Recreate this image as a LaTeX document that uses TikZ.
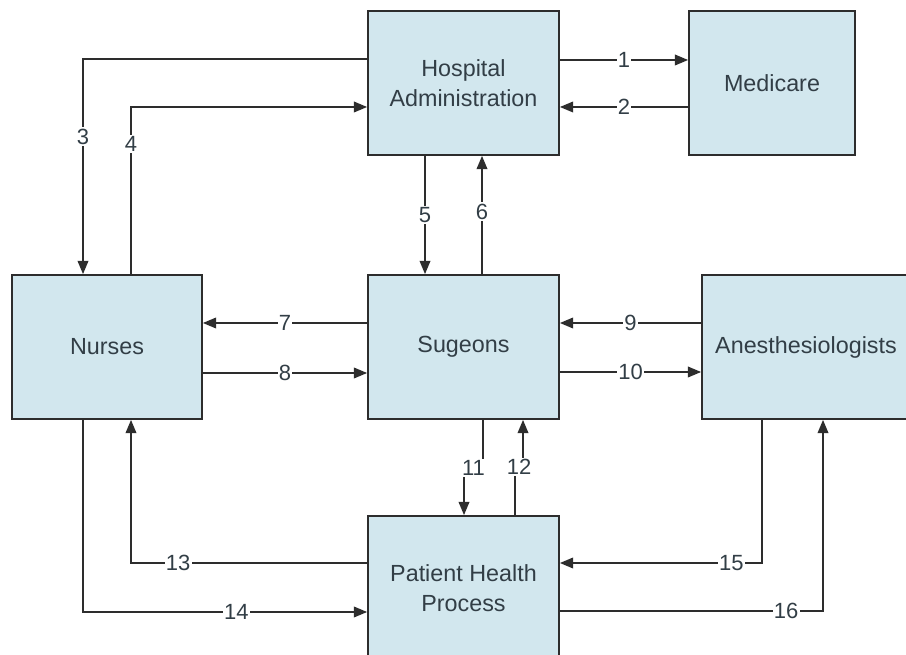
\documentclass[tikz,border=0pt]{standalone}
\usepackage{fontspec}
\setmainfont{Liberation Sans}
\usetikzlibrary{arrows.meta}

\definecolor{boxfill}{RGB}{210,231,238}
\definecolor{boxline}{RGB}{45,45,45}
\definecolor{boxtext}{RGB}{50,62,70}

\begin{document}
\begin{tikzpicture}
  [x=0.75pt,y=-0.75pt,
   box/.style={draw=boxline,line width=1.3pt,fill=boxfill,text=boxtext,align=center,
     minimum width=143.25pt,minimum height=108pt,
     font=\fontsize{17.5}{22.5}\selectfont},
   flow/.style={draw=boxline,line width=1.3pt,-{Triangle[length=10pt,width=8pt]}},
   num/.style={fill=white,inner sep=1pt,text=boxtext,font=\fontsize{16.5}{16.5}\selectfont}]
  \useasboundingbox (0,0) rectangle (906,655);
  \clip (0,0) rectangle (906,655);

  \node (hosp)[box] at (463.5,83) {Hospital\\Administration};
  \node (medi)[box,minimum width=124.5pt] at (772,83) {Medicare};
  \node (nurse)[box,minimum width=142.5pt] at (107,347) {Nurses};
  \node (sug)[box] at (463.5,347) {Sugeons};
  \node (anes)[box,minimum width=156pt] at (806,347) {Anesthesiologists};
  \node (pat)[box] at (463.5,588) {Patient Health\\Process};

  % administration and medicare
  \draw[flow] (hosp.east |- 0,60) -- node[num]{1} (medi.west |- 0,60);
  \draw[flow] (medi.west |- 0,107) -- node[num]{2} (hosp.east |- 0,107);

  % administration and nurses
  \draw[flow] (hosp.west |- 0,59) -| node[num,pos=0.68]{3} (nurse.north -| 83,0);
  \draw[flow] (nurse.north -| 131,0) |- node[num,pos=0.39]{4} (hosp.west |- 0,107);

  % administration and surgeons
  \draw[flow] (hosp.south -| 425,0) -- node[num]{5} (sug.north -| 425,0);
  \draw[flow] (sug.north -| 482,0) -- node[num,pos=0.53]{6} (hosp.south -| 482,0);

  % surgeons with nurses and anesthesiologists
  \draw[flow] (sug.west |- 0,323) -- node[num]{7} (nurse.east |- 0,323);
  \draw[flow] (nurse.east |- 0,373) -- node[num]{8} (sug.west |- 0,373);
  \draw[flow] (anes.west |- 0,323) -- node[num]{9} (sug.east |- 0,323);
  \draw[flow] (sug.east |- 0,372) -- node[num]{10} (anes.west |- 0,372);

  % surgeons and patient
  \draw[flow] (sug.south -| 483,0) -- ++(0,48) -| node[num,pos=0.25]{11} (pat.north -| 464,0);
  \draw[flow] (pat.north -| 515,0) -- ++(0,-48) -| node[num,pos=0.25]{12} (sug.south -| 523,0);

  % patient with nurses and anesthesiologists
  \draw[flow] (pat.west |- 0,563) -| node[num,pos=0.40]{13} (nurse.south -| 131,0);
  \draw[flow] (nurse.south -| 83,0) |- node[num,pos=0.77]{14} (pat.west |- 0,612);
  \draw[flow] (anes.south -| 762,0) |- node[num,pos=0.576]{15} (pat.east |- 0,563);
  \draw[flow] (pat.east |- 0,611) -| node[num,pos=0.43]{16} (anes.south -| 823,0);

\end{tikzpicture}
\end{document}
